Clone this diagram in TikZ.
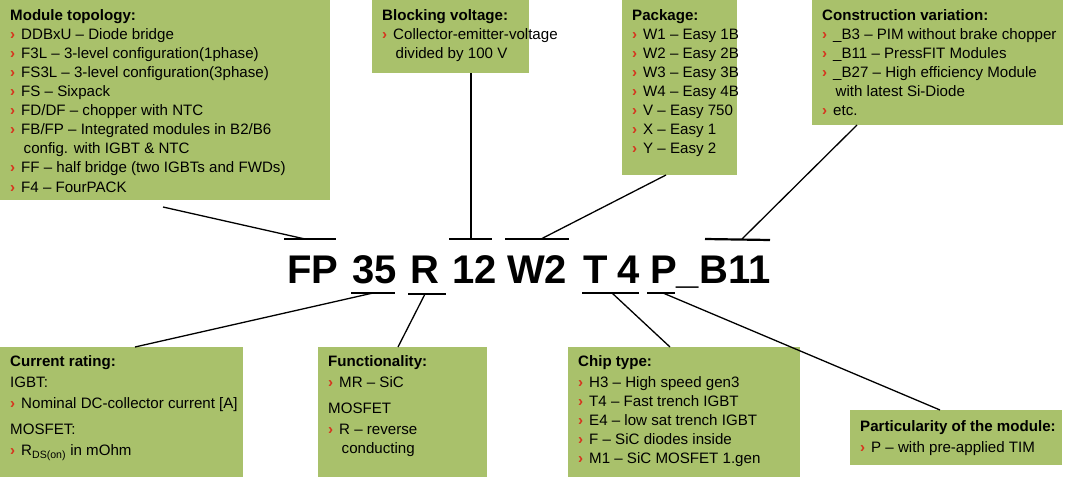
\documentclass[tikz,border=0pt]{standalone}
\usepackage{fontspec}
\setmainfont{Liberation Sans}
\begin{document}
\definecolor{boxg}{RGB}{169,193,107}
\definecolor{bulred}{RGB}{214,52,30}
\newcommand\bl{{\color{bulred}\bfseries ›}\hspace{6pt}}
\newcommand\hb{\hspace{13.5pt}}
\begin{tikzpicture}[x=1pt,y=-1pt,
  box/.style={fill=boxg,draw=none,anchor=north west,inner sep=0pt},
  txt/.style={anchor=north west,align=left,inner sep=0pt,font=\fontsize{15.1}{19.1}\selectfont},
  code/.style={anchor=base west,inner sep=0pt,font=\fontsize{40}{40}\selectfont\bfseries},
  bar/.style={line width=2.2pt},
  ln/.style={line width=1.3pt}]
\useasboundingbox (0,0) rectangle (1080,482);
% boxes
\node[box,minimum width=330,minimum height=200] (b1) at (0,0) {};
\node[box,minimum width=157,minimum height=73] (b2) at (372,0) {};
\node[box,minimum width=115,minimum height=175] (b3) at (622,0) {};
\node[box,minimum width=251,minimum height=125] (b4) at (812,0) {};
\node[box,minimum width=243,minimum height=130] (b5) at (0,347) {};
\node[box,minimum width=169,minimum height=130] (b6) at (318,347) {};
\node[box,minimum width=232,minimum height=130] (b7) at (568,347) {};
\node[box,minimum width=212,minimum height=55] (b8) at (850,410) {};
% texts
\node[txt] (t1) at (10,9) {\textbf{Module topology:}\\
\bl DDBxU -- Diode bridge\\
\bl F3L -- 3-level configuration(1phase)\\
\bl FS3L -- 3-level configuration(3phase)\\
\bl FS -- Sixpack\\
\bl FD/DF -- chopper with NTC\\
\bl FB/FP -- Integrated modules  in B2/B6\\
\hb config. with IGBT \& NTC\\
\bl FF -- half bridge (two IGBTs and FWDs)\\
\bl F4 -- FourPACK};
\node[txt] (t2) at (382,9) {\textbf{Blocking voltage:}\\
\bl Collector-emitter-voltage\\
\hb divided by 100 V};
\node[txt] (t3) at (632,9) {\textbf{Package:}\\
\bl W1 -- Easy 1B\\ \bl W2 -- Easy 2B\\ \bl W3 -- Easy 3B\\ \bl W4 -- Easy 4B\\
\bl V -- Easy 750\\ \bl X -- Easy 1\\ \bl Y -- Easy 2};
\node[txt] (t4) at (822,9) {\textbf{Construction variation:}\\
\bl \_B3 -- PIM without brake chopper\\
\bl \_B11 -- PressFIT Modules\\
\bl \_B27 -- High  efficiency Module\\
\hb with latest Si-Diode\\
\bl etc.};
\node[txt] (t5) at (10,355) {\textbf{Current rating:}\\[2pt]
IGBT:\\[2pt]
\bl Nominal DC-collector current [A]\\[7pt]
MOSFET:\\[2pt]
\bl R\textsubscript{DS(on)} in mOhm};
\node[txt] (t6) at (328,355) {\textbf{Functionality:}\\[2pt]
\bl MR -- SiC\\[7pt]
MOSFET\\[2pt]
\bl R -- reverse\\
\hb conducting};
\node[txt] (t7) at (578,355) {\textbf{Chip type:}\\[2pt]
\bl H3 -- High speed gen3\\
\bl T4 -- Fast trench IGBT\\
\bl E4 -- low sat trench IGBT\\
\bl F -- SiC diodes inside\\
\bl M1 -- SiC MOSFET 1.gen};
\node[txt] (t8) at (860,420) {\textbf{Particularity of the module:}\\[2pt]
\bl P -- with pre-applied TIM};
% code
\node[code] (cFP) at (287,283) {FP};
\node[code] (c35) at (352,283) {35};
\node[code] (cR) at (410,283) {R};
\node[code] (c12) at (452,283) {12};
\node[code] (cW2) at (507,283) {W2};
\node[code] (cT) at (583,283) {T};
\node[code] (c4) at (617,283) {4};
\node[code] (cP) at (650,283) {P\_B11};
% bars
\coordinate (fpL) at (284,239); \coordinate (fpR) at (336,239); \coordinate (fpM) at (305,239);
\coordinate (v12L) at (449,239); \coordinate (v12R) at (492,239); \coordinate (v12M) at (471,239);
\coordinate (w2L) at (505,239); \coordinate (w2R) at (569,239); \coordinate (w2M) at (541,239);
\coordinate (bL) at (705,239); \coordinate (bR) at (770,240); \coordinate (bM) at (742,239);
\coordinate (s35L) at (351,293); \coordinate (s35R) at (395,293); \coordinate (s35M) at (373,293);
\coordinate (rL) at (408,294); \coordinate (rR) at (446,294); \coordinate (rM) at (425,294);
\coordinate (t4L) at (582,293); \coordinate (t4R) at (639,293); \coordinate (t4M) at (612,293);
\coordinate (pL) at (647,293); \coordinate (pR) at (675,293); \coordinate (pM) at (663,293);
\foreach \a in {fp,v12,w2,b,s35,r,t4,p} \draw[bar] (\a L) -- (\a R);
% connectors
\coordinate (e1) at (163,207); \draw[ln] (fpM) -- (e1);
\draw[ln] (v12M) -- (b2.south -| v12M);
\coordinate (e3) at (666,175); \draw[ln] (w2M) -- (e3);
\coordinate (e4) at (857,125); \draw[ln] (bM) -- (e4);
\coordinate (e5) at (135,347); \draw[ln] (s35M) -- (e5);
\coordinate (e6) at (398,347); \draw[ln] (rM) -- (e6);
\coordinate (e7) at (670,347); \draw[ln] (t4M) -- (e7);
\coordinate (e8) at (940,410); \draw[ln] (pM) -- (e8);
\end{tikzpicture}
\end{document}
